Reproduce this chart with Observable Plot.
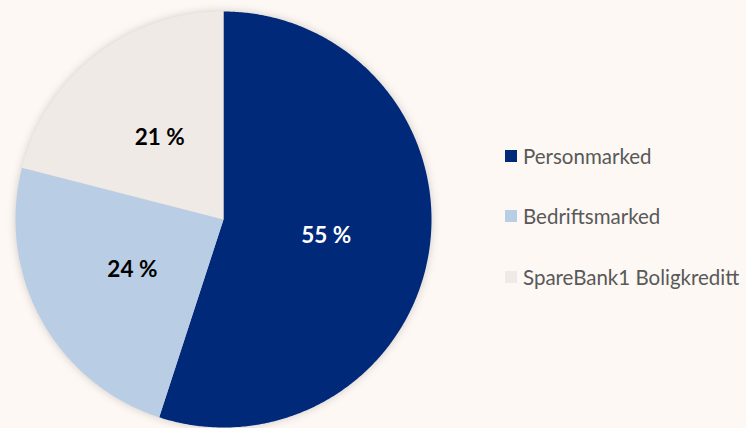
<!DOCTYPE html>
<html>
<head>
<meta charset="utf-8">
<script src="https://cdn.jsdelivr.net/npm/d3@7"></script>
<script src="https://cdn.jsdelivr.net/npm/@observablehq/plot@0.6"></script>
<style>
  html, body { margin: 0; padding: 0; background: #fdf8f4; }
  #wrap { position: relative; width: 746px; height: 428px; overflow: hidden; }
  #legend { position: absolute; left: 505px; top: 0; font-family: Lato, "Open Sans", sans-serif; font-size: 20.5px; color: #595959; }
  .item { position: absolute; left: 0; white-space: nowrap; display: flex; align-items: center; height: 22px; }
  .sw { width: 12px; height: 12px; margin-right: 6px; flex: none; }
</style>
</head>
<body>
<div id="wrap"><div id="legend"></div></div>
<script>
const categories = ["Personmarked", "Bedriftsmarked", "SpareBank1 Boligkreditt"];
const shares = [55, 24, 21];
const labels = ["55 %", "24 %", "21 %"];
const colors = ["#00297a", "#b9cde5", "#f0eae6"];
const labelColors = ["white", "#000000", "#000000"];

const pie = d3.pie().sort(null).value(d => d.value)(
  categories.map((c, i) => ({category: c, value: shares[i], label: labels[i], labelColor: labelColors[i]}))
);

// Build planar polygons from the pie angles (unit radius, y pointing down)
function slicePolygon(a0, a1) {
  const ring = [[0, 0]];
  const n = Math.max(2, Math.ceil((a1 - a0) / (Math.PI / 360)));
  for (let k = 0; k <= n; ++k) {
    const a = a0 + (a1 - a0) * k / n;
    ring.push([Math.sin(a), -Math.cos(a)]);
  }
  ring.push([0, 0]);
  return ring;
}
const slices = pie.map(p => ({
  type: "Feature",
  properties: {...p.data, mid: (p.startAngle + p.endAngle) / 2},
  geometry: {type: "Polygon", coordinates: [slicePolygon(p.startAngle, p.endAngle)]}
}));

const labelFont = {fontSize: 22.5, fontWeight: "bold", fontFamily: "Lato, 'Open Sans', sans-serif"};

const plot = Plot.plot({
  width: 746,
  height: 428,
  marginLeft: 15,
  marginTop: 11,
  marginRight: 315,
  marginBottom: 1,
  style: {background: "transparent", overflow: "visible"},
  projection: {
    type: "identity",
    domain: {type: "MultiPoint", coordinates: [[-1, -1], [1, 1]]}
  },
  color: {domain: categories, range: colors},
  marks: [
    Plot.geo(slices, {fill: d => d.properties.category, stroke: null}),
    Plot.text(slices, {
      x: d => 0.5 * Math.sin(d.properties.mid),
      y: d => -0.5 * Math.cos(d.properties.mid),
      text: d => d.properties.label,
      fill: "white",
      filter: d => d.properties.labelColor === "white",
      ...labelFont
    }),
    Plot.text(slices, {
      x: d => 0.5 * Math.sin(d.properties.mid),
      y: d => -0.5 * Math.cos(d.properties.mid),
      text: d => d.properties.label,
      fill: "#000000",
      filter: d => d.properties.labelColor !== "white",
      ...labelFont
    })
  ]
});

const geoG = plot.querySelector('g[aria-label="geo"]');
if (geoG) geoG.style.filter = "drop-shadow(0px 0px 4px rgba(0,0,0,0.18))";

const wrap = document.getElementById("wrap");
wrap.insertBefore(plot, wrap.firstChild);

const legend = document.getElementById("legend");
const rowY = [156, 216, 277];
categories.forEach((c, i) => {
  const item = document.createElement("div");
  item.className = "item";
  item.style.top = (rowY[i] - 11) + "px";
  const sw = document.createElement("span");
  sw.className = "sw";
  sw.style.background = plot.scale("color").apply(c);
  const t = document.createElement("span");
  t.textContent = c;
  item.appendChild(sw);
  item.appendChild(t);
  legend.appendChild(item);
});
</script>
</body>
</html>
